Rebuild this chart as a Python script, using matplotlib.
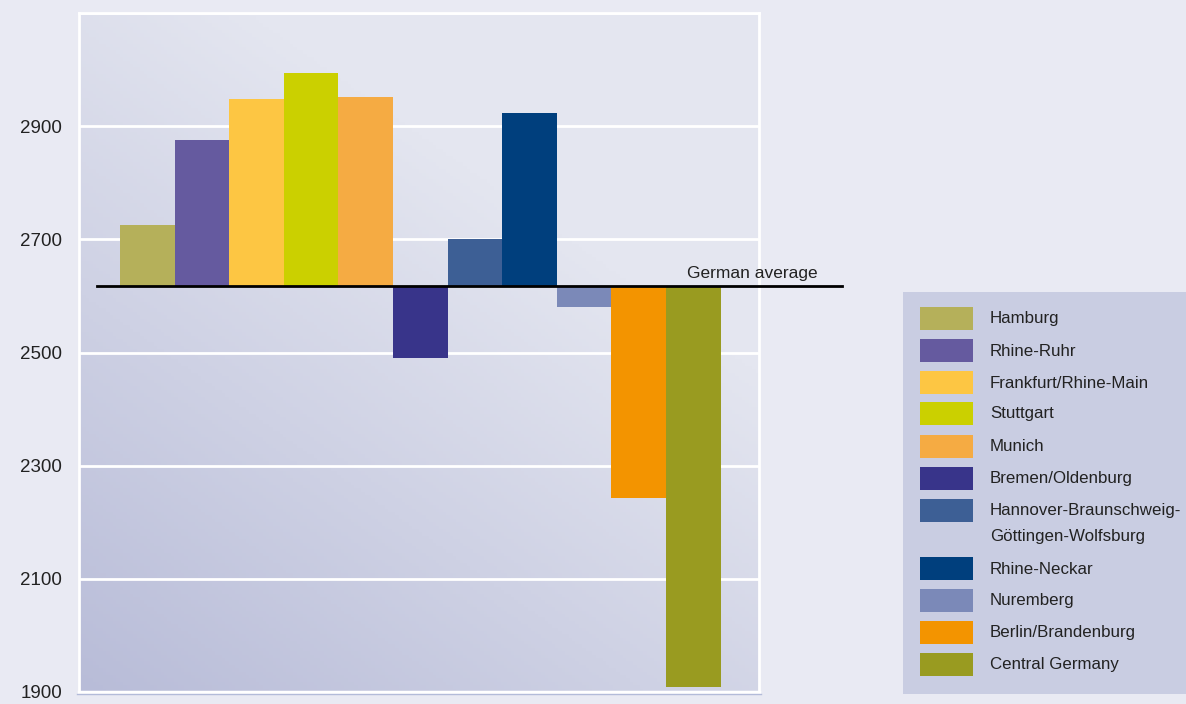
import numpy as np
import matplotlib
matplotlib.use("Agg")
import matplotlib.pyplot as plt
from matplotlib.colors import to_rgb
from matplotlib.patches import Rectangle

plt.rcParams['font.family'] = ['Liberation Sans', 'DejaVu Sans']

# data
regions = ["Hamburg", "Rhine-Ruhr", "Frankfurt/Rhine-Main", "Stuttgart", "Munich",
           "Bremen/Oldenburg", "Hannover-Braunschweig-\nGöttingen-Wolfsburg",
           "Rhine-Neckar", "Nuremberg", "Berlin/Brandenburg", "Central Germany"]
values = [2725, 2875, 2948, 2994, 2951, 2491, 2700, 2923, 2581, 2243, 1909]
colors = ["#b5b05a", "#655a9f", "#fdc643", "#cbd000", "#f5ab43", "#38348a",
          "#3d5f95", "#003f7d", "#7b89b8", "#f39400", "#999b20"]
german_avg = 2617
yticks = [1900, 2100, 2300, 2500, 2700, 2900]

fig = plt.figure(figsize=(11.86, 7.04), dpi=100)
fig.patch.set_facecolor("#e9eaf3")
ax = fig.add_axes([79 / 1186, 12 / 704, 680 / 1186, 679 / 704])

xmin, xmax = -1.251, 11.203
ymin, ymax = 1900, 3100
ax.set_xlim(xmin, xmax)
ax.set_ylim(ymin, ymax)

# gradient background (dark bottom-left -> light top-right)
n = 200
gx, gy = np.meshgrid(np.linspace(0, 1, n), np.linspace(0, 1, n))
t = np.clip(0.6 * gx + 0.85 * gy, 0, 1)
c0 = np.array(to_rgb("#b8bcd8"))
c1 = np.array(to_rgb("#e4e6f0"))
img = c0[None, None, :] * (1 - t[..., None]) + c1[None, None, :] * t[..., None]
ax.imshow(img, extent=[xmin, xmax, ymin, ymax], origin="lower", aspect="auto", zorder=0)

# grid
for y in yticks + [3100]:
    ax.axhline(y, color="white", lw=2, zorder=1)

x = np.arange(len(values))
heights = np.array(values) - german_avg
ax.bar(x, heights, bottom=german_avg, width=1.0, color=colors, zorder=2)

ax.plot([-0.92, 12.72], [german_avg, german_avg], color="black", lw=2,
        clip_on=False, zorder=3)
ax.text(12.28, german_avg + 10, "German average", ha="right", va="bottom",
        fontsize=12.5, color="#222222", zorder=3)

ax.set_yticks(yticks)
ax.set_yticklabels([str(v) for v in yticks], fontsize=13.5, color="#222222")
ax.tick_params(axis="y", length=0, pad=12)
ax.set_xticks([])
for side in ["left", "top", "right"]:
    ax.spines[side].set_color("white")
    ax.spines[side].set_linewidth(2)
ax.spines["bottom"].set_color("white")
ax.spines["bottom"].set_linewidth(2.5)
fig.add_artist(plt.Line2D([77 / 1186, 761 / 1186], [1 - 694 / 704] * 2,
                          transform=fig.transFigure, color="#b3bbd9", lw=1))

# legend box
W, H = 1186, 704
fig.add_artist(Rectangle((903 / W, 1 - 694 / H), 283 / W, 402 / H,
                         transform=fig.transFigure, facecolor="#c9cde2",
                         edgecolor="none"))
row_y = [319, 351, 383, 414, 447, 479, 511, 569, 601, 633, 665]
for name, col, yy in zip(regions, colors, row_y):
    fig.add_artist(Rectangle((920 / W, 1 - (yy + 11) / H), 53 / W, 23 / H,
                             transform=fig.transFigure, facecolor=col,
                             edgecolor="none"))
    for k, line in enumerate(name.split("\n")):
        fig.text(990 / W, 1 - (yy + 26 * k) / H, line, ha="left", va="center",
                 fontsize=12.2, color="#222222", transform=fig.transFigure)

fig.savefig("out.png", dpi=100, facecolor=fig.get_facecolor())
